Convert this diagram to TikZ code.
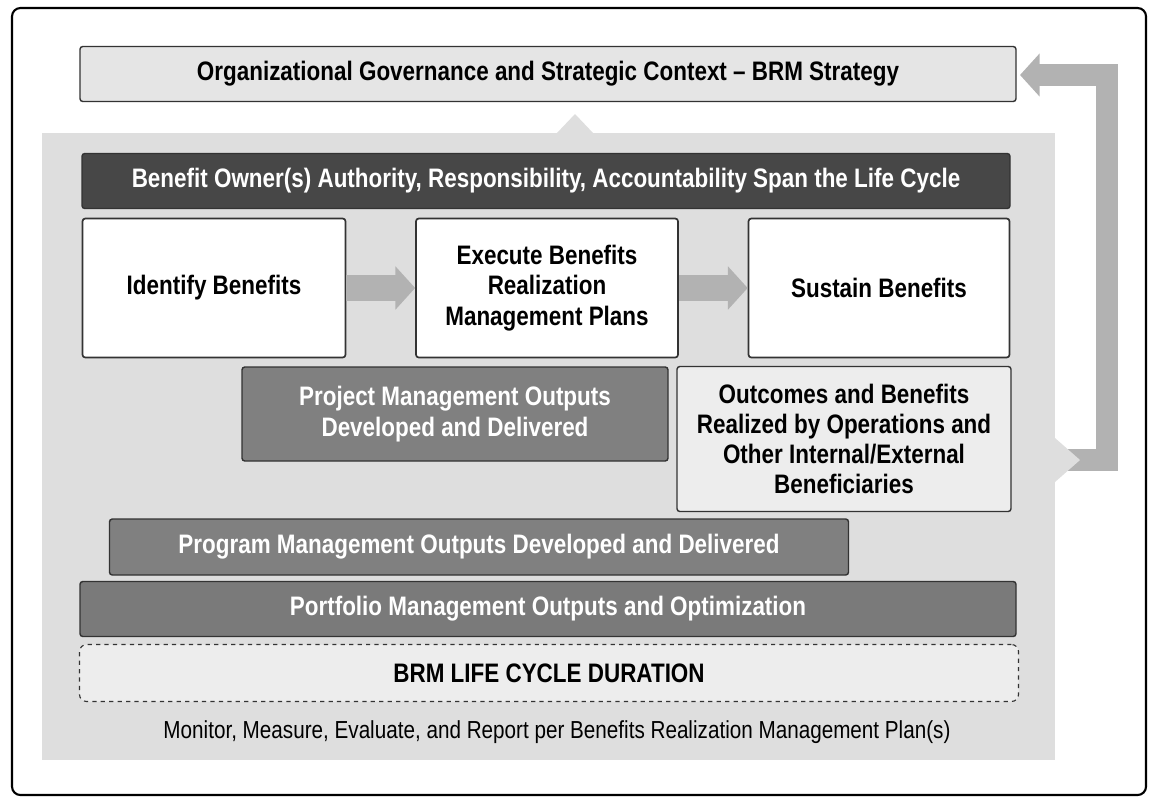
\documentclass[tikz,border=0pt]{standalone}
\usepackage{fontspec}
\setmainfont[FakeStretch=0.84]{Liberation Sans}
\usetikzlibrary{arrows.meta}
\tikzset{
	band/.style={draw=black!80, line width=1pt, rounded corners=2pt, font=\bfseries\fontsize{19}{21.5}\selectfont, text=white, align=center},
	stagebox/.style={draw=black!80, line width=1.2pt, fill=white, rounded corners=2pt, font=\bfseries\fontsize{19}{21.5}\selectfont, align=center},
	blockarrow/.style={line width=18pt, draw=black!30, -{Triangle[length=14pt,width=30pt]}},
}
\begin{document}
\begin{tikzpicture}[x=0.025cm, y=-0.025cm]
	\useasboundingbox (0,0) rectangle (1154,804);
	\draw [line width=1.5pt, rounded corners=6pt] (12,8) rectangle (1146,795);
	
	% panel
	\fill [black!13] (42,133) rectangle (1055,760);
	\fill [black!13] (556,134) -- (575,114) -- (594,134) -- cycle;
	
	% feedback arrow
	\coordinate (F1) at (1062,460);
	\coordinate (F2) at (1107,460);
	\coordinate (F3) at (1107,75);
	\coordinate (F4) at (1020,75);
	\draw [blockarrow, line width=16pt] (F1) -- (F2) -- (F3) -- (F4);
	\fill [black!13] (1055,438) -- (1080,460) -- (1055,482) -- cycle;
	
	\node [band, fill=black!10, text=black, minimum width=936*0.025cm, minimum height=55*0.025cm] (gov) at (548,74) {Organizational Governance and Strategic Context -- BRM Strategy};
	\node [band, fill=black!72, minimum width=928*0.025cm, minimum height=55*0.025cm] (owner) at (546,181) {Benefit Owner(s) Authority, Responsibility, Accountability Span the Life Cycle};
	
	\node [stagebox, minimum width=263*0.025cm, minimum height=139*0.025cm] (identify) at (214,288) {Identify Benefits};
	\node [stagebox, minimum width=262*0.025cm, minimum height=139*0.025cm] (execute) at (547,288) {Execute Benefits\\Realization\\Management Plans};
	\node [stagebox, minimum width=261*0.025cm, minimum height=139*0.025cm] (sustain) at (879,288) {Sustain Benefits};
	\draw [blockarrow] (identify) -- (execute);
	\draw [blockarrow] (execute) -- (sustain);
	
	\node [band, fill=black!50, minimum width=426*0.025cm, minimum height=94*0.025cm] (project) at (455,414) {Project Management Outputs\\Developed and Delivered};
	\node [band, fill=black!7, text=black, minimum width=334*0.025cm, minimum height=145*0.025cm] (outcomes) at (844,439) {Outcomes and Benefits\\Realized by Operations and\\Other Internal/External\\Beneficiaries};
	\node [band, fill=black!50, minimum width=739*0.025cm, minimum height=56*0.025cm] (program) at (479,547) {Program Management Outputs Developed and Delivered};
	\node [band, fill=black!52, minimum width=936*0.025cm, minimum height=55*0.025cm] (portfolio) at (548,609) {Portfolio Management Outputs and Optimization};
	\node [band, fill=black!7, text=black, dashed, line width=0.8pt, rounded corners=5pt, minimum width=939*0.025cm, minimum height=57*0.025cm] (duration) at (549,673) {BRM LIFE CYCLE DURATION};
	\node [font=\fontsize{17.5}{20}\selectfont] (monitor) at (557,732) {Monitor, Measure, Evaluate, and Report per Benefits Realization Management Plan(s)};
\end{tikzpicture}
\end{document}
